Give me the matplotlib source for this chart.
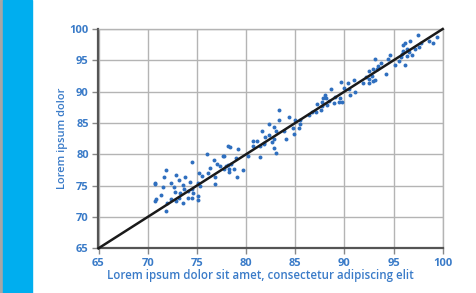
import numpy as np
import matplotlib.pyplot as plt
from matplotlib.patches import Rectangle

# Data
x_vals = [78.15, 76.0, 76.76, 77.64, 77.1, 74.49, 76.36, 77.37, 78.12, 77.81,
          78.32, 75.51, 75.17, 76.15, 71.88, 72.86, 73.81, 76.86, 70.76, 71.68,
          72.36, 73.2, 73.58, 74.32, 76.83, 71.51, 72.63, 73.71, 74.15, 74.49,
          75.14, 74.66, 75.34, 72.73, 73.24, 71.34, 72.42, 73.2, 73.64, 74.05,
          74.46, 75.07, 75.07, 70.83, 71.95, 71.88, 72.9, 70.72, 70.79,
          83.36, 84.37, 83.36, 84.98, 85.46, 85.39, 84.78, 82.37, 82.88, 83.08,
          81.59, 83.83, 84.1, 81.97, 82.37, 82.88, 82.61, 81.8, 81.12, 80.71,
          80.71, 81.42, 81.86, 82.88, 83.02, 81.46, 80.24, 79.15, 78.41, 77.8,
          78.95, 78.47, 78.0, 78.27, 79.08, 79.66, 78.81,
          92.49, 92.22, 92.49, 91.88, 90.93, 90.32, 89.64, 89.92, 90.46, 90.59,
          91.07, 88.69, 88.02, 88.15, 87.81, 88.39, 87.75, 89.07, 89.58, 89.44,
          89.78, 88.9, 88.22, 87.68, 87.2, 87.61, 87.14, 86.73, 86.36, 85.51,
          84.9,
          97.47, 99.44, 98.97, 98.56, 97.81, 96.66, 96.19, 95.98, 97.54, 97.2,
          96.32, 95.98, 96.59, 96.86, 96.32, 95.71, 95.85, 96.19, 95.51, 95.17,
          94.63, 94.42, 93.75, 93.14, 93.41, 93.27, 92.93, 94.22, 92.86, 92.46,
          92.93, 93.14]
y_vals = [81.33, 80.05, 79.1, 79.73, 78.46, 78.78, 77.77, 78.14, 78.24, 77.6,
          77.7, 76.54, 76.97, 76.97, 77.5, 76.76, 76.44, 76.44, 75.48, 76.33,
          75.48, 75.9, 75.16, 75.64, 75.27, 74.84, 74.84, 74.41, 74.2, 74.41,
          75.37, 73.88, 74.95, 74.04, 73.78, 73.46, 72.93, 73.03, 72.29, 73.03,
          73.03, 73.35, 72.71, 72.82, 72.29, 70.9, 72.61, 75.27, 72.6,
          87.02, 85.96, 85.43, 85.43, 84.89, 84.26, 84.26, 84.79, 84.36, 83.72,
          83.72, 83.72, 82.45, 82.71, 83.09, 82.45, 82.02, 81.7, 82.13, 82.13,
          81.28, 81.38, 81.8, 80.96, 80.21, 79.57, 79.79, 80.85, 81.17, 79.68,
          79.36, 78.4, 78.09, 77.13, 76.38, 77.45, 77.66,
          93.3, 92.34, 92.02, 91.38, 91.91, 91.38, 91.6, 90.53, 90.43, 89.47,
          90.0, 90.43, 89.47, 88.94, 89.04, 88.51, 88.4, 89.15, 89.04, 88.3,
          88.3, 88.19, 87.87, 87.77, 87.98, 87.13, 86.81, 86.81, 86.28, 85.53,
          83.19,
          98.99, 98.67, 97.82, 98.14, 97.82, 98.03, 97.82, 97.5, 97.07, 96.76,
          96.76, 96.44, 96.33, 95.9, 95.69, 95.59, 96.01, 94.2, 94.95, 94.2,
          95.9, 95.27, 94.52, 95.27, 94.1, 93.67, 93.56, 92.82, 92.5, 91.33,
          91.65, 91.86]
line_x = [65, 100]
line_y = [65, 100]
ticks = [65, 70, 75, 80, 85, 90, 95, 100]

blue_txt = '#3a7bc8'
dot_col = '#2f6fbf'
grid_col = '#b4b4b4'

plt.rcParams['font.family'] = ['Open Sans', 'DejaVu Sans']

fig = plt.figure(figsize=(4.77, 2.93), dpi=100)

# left side band
fig.patches.append(Rectangle((0, 0), 3.3 / 477, 1, transform=fig.transFigure,
                             color='#a6a6a6', zorder=0))
fig.patches.append(Rectangle((3.3 / 477, 0), 29 / 477, 1, transform=fig.transFigure,
                             color='#00aeef', zorder=0))

ax = fig.add_axes([98.5 / 477, 1 - 248.3 / 293, 344.2 / 477, 219.3 / 293])

ax.scatter(x_vals, y_vals, s=8, color=dot_col, linewidths=0, zorder=3)
ax.plot(line_x, line_y, color='#1a1a1a', lw=1.8, zorder=4, clip_on=False)

ax.set_xlim(65, 100)
ax.set_ylim(65, 100)
ax.set_xticks(ticks)
ax.set_yticks(ticks)
ax.grid(True, color=grid_col, lw=1)
ax.set_axisbelow(True)

for s in ['top', 'right']:
    ax.spines[s].set_color(grid_col)
    ax.spines[s].set_linewidth(1)
for s in ['left', 'bottom']:
    ax.spines[s].set_color('#555555')
    ax.spines[s].set_linewidth(1.6)

ax.tick_params(length=4, width=1, color='#888888', labelcolor=blue_txt,
               labelsize=8, pad=3)
for lab in ax.get_xticklabels() + ax.get_yticklabels():
    lab.set_fontweight('bold')

ax.set_xlabel('Lorem ipsum dolor sit amet, consectetur adipiscing elit',
              color=blue_txt, fontsize=8.3, fontweight='semibold', labelpad=2)
ax.xaxis.set_label_coords(0.47, -0.095)
ax.set_ylabel('Lorem ipsum dolor', color=blue_txt, fontsize=8,
              fontweight='semibold', labelpad=1)

fig.savefig('out.png', dpi=100)
